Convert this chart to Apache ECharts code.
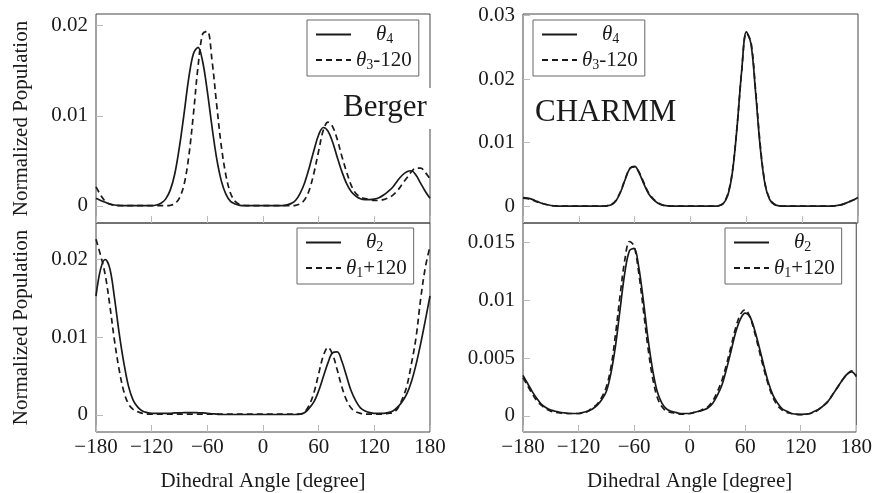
<!DOCTYPE html>
<html>
<head>
<meta charset="utf-8">
<script src="https://cdn.jsdelivr.net/npm/echarts@6/dist/echarts.min.js"></script>
<style>html,body{margin:0;padding:0;background:#fff}#c{width:875px;height:493px}</style>
</head>
<body>
<div id="c"></div>
<script>
// ---- Data ----
const angles = [];
for (let a = -180; a <= 180; a += 5) angles.push(a);

const xTicks = [-180, -120, -60, 0, 60, 120, 180];
const yTicksTL = [0, 0.01, 0.02];
const yTicksTR = [0, 0.01, 0.02, 0.03];
const yTicksBL = [0, 0.01, 0.02];
const yTicksBR = [0, 0.005, 0.01, 0.015];

// Berger, top: theta4 (solid)
const bergerTheta4 = [
  0.00085,0.0006,0.0004,0.0002,0.0001,0.00005,0.00002,0.00002,0.00002,0.00002,
  0.00002,0.00002,0.00003,0.0001,0.0003,0.00075,0.00175,0.0036,0.0066,0.0103,
  0.0142,0.0169,0.0176,0.0160,0.0127,0.0088,0.0053,0.0028,0.0013,0.0005,
  0.0002,0.00005,0.00002,0.00002,0.00002,0.00002,0.00002,0.00002,0.00002,0.00002,
  0.00003,0.00008,0.00025,0.0006,0.0014,0.0026,0.0043,0.0062,0.0079,0.0087,
  0.0083,0.0071,0.0054,0.0038,0.0025,0.0016,0.0011,0.0008,0.0007,0.0007,
  0.00075,0.0009,0.0012,0.0016,0.0021,0.0028,0.0034,0.0038,0.0039,0.0034,
  0.0025,0.0016,0.00085
];
// Berger, top: theta3-120 (dashed)
const bergerTheta3m120 = [
  0.0021,0.0012,0.0005,0.0002,0.00006,0.00002,0.00002,0.00002,0.00002,0.00002,
  0.00002,0.00002,0.00002,0.00002,0.00002,0.00002,0.00006,0.00025,0.0009,0.0024,
  0.0055,0.0102,0.0155,0.0191,0.0194,0.0162,0.0113,0.0067,0.0034,0.0014,
  0.0005,0.00015,0.00004,0.00002,0.00002,0.00002,0.00002,0.00002,0.00002,0.00002,
  0.00002,0.00002,0.00002,0.00006,0.00023,0.0007,0.0018,0.0037,0.0061,0.0084,
  0.0093,0.0088,0.0074,0.0055,0.0038,0.0023,0.0014,0.0010,0.0008,0.0007,
  0.0006,0.0006,0.0007,0.0009,0.0012,0.0017,0.0024,0.0031,0.0038,0.0042,
  0.0042,0.0037,0.0030
];
// CHARMM, top: theta4 (solid)
const charmmTheta4 = [
  0.0014,0.0013,0.0011,0.0008,0.0005,0.0003,0.00015,0.00008,0.00005,0.00005,
  0.00005,0.00005,0.00005,0.00005,0.00005,0.00005,0.00005,0.00005,0.0001,0.00025,
  0.0009,0.0023,0.0043,0.0060,0.0063,0.0052,0.0035,0.0020,0.0011,0.0005,
  0.0002,0.0001,0.00004,0.00004,0.00004,0.00004,0.00004,0.00004,0.00004,0.00004,
  0.00004,0.00005,0.0001,0.0004,0.0017,0.0053,0.0124,0.0213,0.0274,0.0255,
  0.0178,0.0092,0.0035,0.0011,0.0003,0.0001,0.00004,0.00004,0.00004,0.00004,
  0.00004,0.00004,0.00004,0.00004,0.00004,0.00004,0.00004,0.0001,0.0002,0.0004,
  0.0007,0.0010,0.0014
];
// CHARMM, top: theta3-120 (dashed)
const charmmTheta3m120 = [
  0.0013,0.0012,0.0010,0.0007,0.0005,0.0003,0.00015,0.00008,0.00005,0.00005,
  0.00005,0.00005,0.00005,0.00005,0.00005,0.00005,0.00005,0.00005,0.0001,0.0003,
  0.0010,0.0024,0.0044,0.0060,0.0062,0.0053,0.0037,0.0021,0.0012,0.0006,
  0.0002,0.0001,0.00004,0.00004,0.00004,0.00004,0.00004,0.00004,0.00004,0.00004,
  0.00004,0.00005,0.0001,0.0005,0.0019,0.0055,0.0125,0.0212,0.0272,0.0258,
  0.0182,0.0096,0.0037,0.0012,0.0004,0.0001,0.00004,0.00004,0.00004,0.00004,
  0.00004,0.00004,0.00004,0.00004,0.00004,0.00004,0.00004,0.0001,0.0002,0.0004,
  0.0007,0.0010,0.0013
];
// Berger, bottom: theta2 (solid)
const bergerTheta2 = [
  0.0153,0.0188,0.0200,0.0188,0.0150,0.0105,0.0067,0.0037,0.0019,0.0010,
  0.0005,0.0003,0.0002,0.0002,0.0002,0.0002,0.0002,0.00025,0.00025,0.0003,
  0.0003,0.0003,0.00028,0.00025,0.0002,0.00015,0.0001,0.00005,0.00005,0.00005,
  0.00005,0.00005,0.00005,0.00005,0.00005,0.00005,0.00005,0.00005,0.00005,0.00005,
  0.00005,0.00005,0.00005,0.00005,0.0001,0.0003,0.0009,0.0017,0.0031,0.0049,
  0.0067,0.0080,0.0081,0.0069,0.0050,0.0031,0.0018,0.0009,0.0005,0.0003,
  0.0002,0.0002,0.0002,0.0003,0.0005,0.0010,0.0017,0.0027,0.0043,0.0065,
  0.0092,0.0122,0.0153
];
// Berger, bottom: theta1+120 (dashed)
const bergerTheta1p120 = [
  0.0226,0.0205,0.0180,0.0140,0.0095,0.0058,0.0030,0.0014,0.0007,0.0004,
  0.0002,0.0001,0.0001,0.0001,0.0001,0.0001,0.0001,0.0001,0.0001,0.0001,
  0.0001,0.0001,0.0001,0.0001,0.0001,0.0001,0.0001,0.0001,0.0001,0.0001,
  0.0001,0.0001,0.0001,0.0001,0.0001,0.0001,0.0001,0.0001,0.0001,0.0001,
  0.0001,0.0001,0.0001,0.0001,0.0001,0.0004,0.0013,0.0029,0.0053,0.0076,
  0.0087,0.0078,0.0058,0.0036,0.0019,0.0009,0.0004,0.0002,0.0001,0.0001,
  0.0001,0.0001,0.0001,0.0002,0.0003,0.0008,0.0020,0.0037,0.0066,0.0100,
  0.0150,0.0190,0.0217
];
// CHARMM, bottom: theta2 (solid)
const charmmTheta2 = [
  0.0035,0.0028,0.0021,0.0015,0.0010,0.0007,0.0005,0.0004,0.0003,0.00025,
  0.0002,0.0002,0.0002,0.0003,0.0004,0.0006,0.0009,0.0014,0.0021,0.0037,
  0.0061,0.0093,0.0124,0.0143,0.0145,0.0129,0.0100,0.0067,0.0040,0.0021,
  0.0011,0.0006,0.0004,0.0003,0.0002,0.0002,0.0002,0.0003,0.0004,0.0005,
  0.0007,0.0011,0.0018,0.0027,0.0041,0.0057,0.0073,0.0084,0.0089,0.0086,
  0.0075,0.0060,0.0044,0.0029,0.0018,0.0011,0.0006,0.0004,0.0002,0.00015,
  0.00012,0.00015,0.0002,0.0004,0.0006,0.0009,0.0013,0.0019,0.0025,0.0031,
  0.0036,0.0038,0.0034
];
// CHARMM, bottom: theta1+120 (dashed)
const charmmTheta1p120 = [
  0.0033,0.0026,0.0019,0.0013,0.0009,0.0006,0.0004,0.0003,0.00025,0.0002,
  0.0002,0.0002,0.0002,0.0003,0.0004,0.0007,0.0010,0.0016,0.0025,0.0042,
  0.0071,0.0105,0.0135,0.0151,0.0147,0.0124,0.0092,0.0059,0.0033,0.0016,
  0.0008,0.0004,0.0003,0.0002,0.00015,0.00015,0.0002,0.0003,0.0004,0.0006,
  0.0008,0.0013,0.0021,0.0031,0.0045,0.0061,0.0077,0.0088,0.0092,0.0086,
  0.0073,0.0057,0.0041,0.0027,0.0016,0.0009,0.0005,0.0003,0.0002,0.00012,
  0.0001,0.00012,0.0002,0.0003,0.0006,0.0009,0.0013,0.0019,0.0025,0.0031,
  0.0036,0.0039,0.0035
];

const FONT = "'Liberation Serif', 'DejaVu Serif', serif";
const INK = '#1a1a1a';

function pairs(vals) { return angles.map((a, i) => [a, vals[i]]); }

const grids = [
  { left: 96, top: 14, width: 334, height: 209 },   // TL
  { left: 523, top: 14, width: 335, height: 209 },  // TR
  { left: 96, top: 223, width: 334, height: 209 },  // BL
  { left: 523, top: 223, width: 335, height: 209 }  // BR
].map(g => Object.assign(g, { show: true, borderColor: '#444', borderWidth: 1, backgroundColor: 'transparent' }));

function xAxis(i, bottom) {
  return {
    type: 'value', gridIndex: i, min: -180, max: 180, interval: 60, position: 'bottom',
    axisLine: { show: false, onZero: false },
    splitLine: { show: false },
    axisTick: { show: true, inside: true, length: 7, customValues: xTicks, lineStyle: { color: '#bbb', width: 1 } },
    axisLabel: bottom ? {
      show: true, showMinLabel: true, showMaxLabel: true, margin: 5,
      fontFamily: FONT, fontSize: 21, color: INK,
      formatter: v => (v < 0 ? '\u2212' + Math.abs(v) : String(v))
    } : { show: false },
    name: bottom ? 'Dihedral Angle [degree]' : '',
    nameLocation: 'middle', nameGap: 39,
    nameTextStyle: { fontFamily: FONT, fontSize: 21, color: INK }
  };
}
function yAxis(i, min, max, ticks, withName) {
  return {
    type: 'value', gridIndex: i, min: min, max: max, position: 'left',
    axisLine: { show: false, onZero: false },
    splitLine: { show: false },
    axisTick: { show: true, inside: true, length: 7, customValues: ticks, lineStyle: { color: '#bbb', width: 1 } },
    axisLabel: { show: true, customValues: ticks, margin: 8, fontFamily: FONT, fontSize: 21, color: INK,
      formatter: v => String(v) },
    name: withName ? 'Normalized Population' : '',
    nameLocation: 'middle', nameRotate: 90, nameGap: 64,
    nameTextStyle: { fontFamily: FONT, fontSize: 21, color: INK }
  };
}

function line(name, i, vals, dashed) {
  return {
    type: 'line', name: name, xAxisIndex: i, yAxisIndex: i,
    data: pairs(vals), showSymbol: false, symbol: 'none', smooth: 0.35,
    lineStyle: { color: INK, width: 1.7, type: dashed ? [6, 4] : 'solid' },
    itemStyle: { color: INK },
    emphasis: { disabled: true }, animation: false, z: 3
  };
}

const rich = {
  pad: { width: 20, fontSize: 20, lineHeight: 24 },
  it: { fontFamily: FONT, fontStyle: 'italic', fontSize: 21, color: INK, lineHeight: 24 },
  sub: { fontFamily: FONT, fontSize: 14, color: INK, lineHeight: 24, verticalAlign: 'bottom' },
  n: { fontFamily: FONT, fontSize: 21, color: INK, lineHeight: 24 }
};
function legendFmt(name) {
  const m = name.match(/^θ(\d)(.*)$/);
  if (!m) return name;
  return (m[2] ? '' : '{pad|}') + '{it|θ}{sub|' + m[1] + '}' + (m[2] ? '{n|' + m[2] + '}' : '');
}
function legend(left, top, names) {
  return {
    left: left, top: top, orient: 'vertical', selectedMode: false,
    padding: [4, 7, 4, 8], itemGap: 3, itemWidth: 35, itemHeight: 14,
    borderColor: '#666', borderWidth: 1, backgroundColor: '#fff', borderRadius: 0,
    itemStyle: { color: 'rgba(0,0,0,0)', borderColor: 'rgba(0,0,0,0)', borderWidth: 0, opacity: 0 },
    data: names, formatter: legendFmt,
    textStyle: { fontFamily: FONT, fontSize: 21, color: INK, rich: rich }
  };
}

const option = {
  backgroundColor: '#fff',
  animation: false,
  grid: grids,
  xAxis: [xAxis(0, false), xAxis(1, false), xAxis(2, true), xAxis(3, true)],
  yAxis: [
    yAxis(0, -0.0019, 0.0213, yTicksTL, true),
    yAxis(1, -0.0026, 0.0302, yTicksTR, false),
    yAxis(2, -0.0022, 0.0247, yTicksBL, true),
    yAxis(3, -0.0014, 0.0167, yTicksBR, false)
  ],
  legend: [
    legend(307, 20, ['θ4', 'θ3-120']),
    legend(533, 20, ['θ4', 'θ3-120']),
    legend(297, 228, ['θ2', 'θ1+120']),
    legend(725, 228, ['θ2', 'θ1+120'])
  ],
  title: [
    { text: 'Berger', left: 338, top: 88, padding: [4, 6, 6, 5], backgroundColor: '#fff',
      textStyle: { fontFamily: FONT, fontSize: 31, fontWeight: 'normal', color: INK } },
    { text: 'CHARMM', left: 535, top: 97, padding: 0,
      textStyle: { fontFamily: FONT, fontSize: 31, fontWeight: 'normal', color: INK } }
  ],
  series: [
    line('θ4', 0, bergerTheta4, false),
    line('θ3-120', 0, bergerTheta3m120, true),
    line('θ4', 1, charmmTheta4, false),
    line('θ3-120', 1, charmmTheta3m120, true),
    line('θ2', 2, bergerTheta2, false),
    line('θ1+120', 2, bergerTheta1p120, true),
    line('θ2', 3, charmmTheta2, false),
    line('θ1+120', 3, charmmTheta1p120, true)
  ]
};

const chart = echarts.init(document.getElementById('c'), null, { renderer: 'canvas' });
chart.setOption(option);
</script>
</body>
</html>
